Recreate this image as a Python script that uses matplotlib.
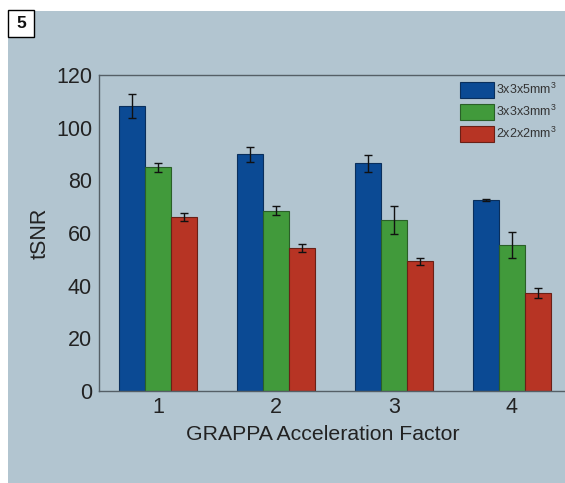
import matplotlib
matplotlib.use("Agg")
import matplotlib.pyplot as plt
from matplotlib.patches import Rectangle
import numpy as np

plt.rcParams['font.family'] = ['Liberation Sans', 'DejaVu Sans']
plt.rcParams['mathtext.default'] = 'regular'

factors = [1, 2, 3, 4]
series_labels = ['3x3x5mm$^{3}$', '3x3x3mm$^{3}$', '2x2x2mm$^{3}$']
blue_vals = [108.3, 89.9, 86.5, 72.5]
blue_err = [4.5, 2.9, 3.2, 0.3]
green_vals = [84.9, 68.5, 64.8, 55.4]
green_err = [1.8, 1.8, 5.3, 4.8]
red_vals = [66.1, 54.4, 49.3, 37.3]
red_err = [1.5, 1.5, 1.3, 1.9]
y_ticks = [0, 20, 40, 60, 80, 100, 120]

bg = '#b2c5d0'
colors = ['#0b4a94', '#419a3b', '#b73424']
edges = ['#0a2f5c', '#2a5f28', '#6a2016']

W, H = 565, 483
fig = plt.figure(figsize=(W / 100, H / 100), dpi=100, facecolor='white')
fig.patches.append(Rectangle((8 / W, 0), 1 - 8 / W, 1 - 11 / H, transform=fig.transFigure,
                             facecolor=bg, edgecolor='none', zorder=-10))
# panel number box
fig.patches.append(Rectangle((8 / W, 1 - 37 / H), 26 / W, 27 / H, transform=fig.transFigure,
                             facecolor='white', edgecolor='black', linewidth=1.0, zorder=5))
fig.text(21 / W, 1 - 23.5 / H, '5', ha='center', va='center', fontsize=12.5,
         fontweight='bold', color='#111111', zorder=6)

ax = fig.add_axes([99 / W, 92 / H, 472 / W, 316 / H])
ax.set_facecolor(bg)

x = np.array(factors, dtype=float)
bw = 0.22
offsets = [-bw, 0.0, bw]
vals = [blue_vals, green_vals, red_vals]
errs = [blue_err, green_err, red_err]
handles = []
for i in range(3):
    b = ax.bar(x + offsets[i], vals[i], width=bw, color=colors[i], edgecolor=edges[i],
               linewidth=0.8, label=series_labels[i], zorder=2)
    handles.append(b)
    ax.errorbar(x + offsets[i], vals[i], yerr=errs[i], fmt='none', ecolor='#111111',
                elinewidth=1.0, capsize=3, capthick=1.0, zorder=3)

ax.set_xlim(0.5, 4.5)
ax.set_ylim(0, 120)
ax.set_xticks(factors)
ax.set_xticklabels([str(f) for f in factors])
ax.set_yticks(y_ticks)
ax.tick_params(axis='both', length=0, labelsize=15.5, colors='#222222', pad=4)
ax.tick_params(axis='y', pad=5)
for s in ['left', 'bottom', 'top']:
    ax.spines[s].set_color('#555f66')
    ax.spines[s].set_linewidth(1.0)
ax.spines['right'].set_visible(False)

fig.text(40 / W, 1 - 233 / H, 'tSNR', rotation=90, ha='center', va='center',
         fontsize=15.5, color='#222222')
fig.text(323 / W, 1 - 435 / H, 'GRAPPA Acceleration Factor', ha='center', va='center',
         fontsize=15.3, color='#222222')

leg = ax.legend(handles=handles, loc='upper left', bbox_to_anchor=(460 / W, 1 - 82 / H),
                bbox_transform=fig.transFigure, frameon=False, fontsize=9,
                handlelength=2.7, handleheight=1.5, labelspacing=0.5,
                handletextpad=0.15, borderpad=0, borderaxespad=0)
for t in leg.get_texts():
    t.set_color('#333333')

fig.savefig('out.png', dpi=100, facecolor='white')
